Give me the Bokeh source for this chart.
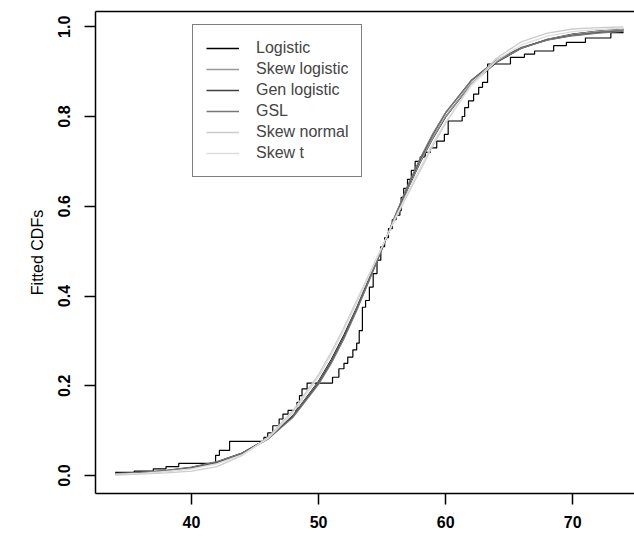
from bokeh.plotting import figure
from bokeh.models import Range1d, FixedTicker, LinearAxis, Legend, LegendItem, PrintfTickFormatter
from bokeh.embed import file_html
from bokeh.resources import INLINE

# ---- data ----
grid_x = [34, 36, 38, 40, 42, 44, 46, 48, 50, 51, 52, 53, 54, 55, 56, 57, 58, 59, 60,
          62, 64, 66, 68, 70, 72, 74]

logistic = [0.0035, 0.006, 0.0103, 0.0175, 0.0297, 0.050, 0.0826, 0.134, 0.210, 0.258,
            0.313, 0.374, 0.440, 0.507, 0.574, 0.638, 0.698, 0.752, 0.799,
            0.872, 0.921, 0.9526, 0.9718, 0.9834, 0.9902, 0.9943]
skew_logistic = [0.003, 0.0055, 0.0095, 0.016, 0.028, 0.048, 0.081, 0.133, 0.208, 0.255,
                 0.310, 0.372, 0.438, 0.506, 0.574, 0.639, 0.699, 0.753, 0.800,
                 0.873, 0.922, 0.953, 0.972, 0.983, 0.990, 0.994]
gen_logistic = [0.004, 0.0065, 0.011, 0.018, 0.030, 0.050, 0.082, 0.132, 0.206, 0.253,
                0.308, 0.370, 0.437, 0.506, 0.576, 0.643, 0.705, 0.760, 0.808,
                0.880, 0.926, 0.954, 0.971, 0.981, 0.987, 0.991]
gsl = [0.0045, 0.007, 0.0115, 0.019, 0.031, 0.050, 0.081, 0.130, 0.203, 0.250,
       0.305, 0.368, 0.436, 0.506, 0.577, 0.645, 0.707, 0.762, 0.809,
       0.879, 0.924, 0.953, 0.970, 0.980, 0.986, 0.990]
skew_normal = [0.001, 0.003, 0.006, 0.010, 0.020, 0.045, 0.085, 0.145, 0.225, 0.275,
               0.330, 0.390, 0.450, 0.510, 0.570, 0.625, 0.680, 0.735, 0.785,
               0.870, 0.930, 0.967, 0.986, 0.995, 0.998, 0.9995]
skew_t = [0.003, 0.005, 0.009, 0.015, 0.026, 0.046, 0.082, 0.140, 0.220, 0.270,
          0.325, 0.385, 0.447, 0.510, 0.572, 0.630, 0.686, 0.740, 0.788,
          0.868, 0.925, 0.960, 0.979, 0.989, 0.994, 0.997]

ecdf_x = [34.0, 35.5, 37.0, 38.0, 39.0, 41.9, 42.2, 43.0, 45.7, 46.0, 46.4, 46.9, 47.2,
          47.6, 48.3, 48.5, 48.7, 49.1, 51.1, 51.6, 52.0, 52.3, 52.7, 53.0, 53.2, 53.45,
          53.7, 54.0, 54.3, 54.6, 54.9, 55.2, 55.5, 55.8, 56.1, 56.4, 56.5, 56.7, 57.0,
          57.3, 57.6, 58.0, 58.4, 58.8, 59.3, 59.9, 60.2, 61.3, 61.5, 61.8, 62.2, 62.6,
          62.9, 63.3, 65.1, 66.2, 67.0, 68.5, 69.5, 71.0, 73.0, 74.0]
ecdf_y = [0.007, 0.010, 0.015, 0.020, 0.027, 0.045, 0.056, 0.076, 0.085, 0.095, 0.111,
          0.126, 0.137, 0.145, 0.163, 0.178, 0.193, 0.206, 0.219, 0.238, 0.250, 0.264,
          0.280, 0.295, 0.323, 0.375, 0.390, 0.420, 0.450, 0.480, 0.510, 0.530, 0.550,
          0.570, 0.580, 0.590, 0.620, 0.640, 0.660, 0.680, 0.700, 0.710, 0.720, 0.730,
          0.745, 0.760, 0.790, 0.800, 0.820, 0.835, 0.850, 0.865, 0.876, 0.917, 0.932,
          0.939, 0.946, 0.958, 0.965, 0.975, 0.987, 0.987]

series_names = ["Logistic", "Skew logistic", "Gen logistic", "GSL", "Skew normal", "Skew t"]
series_values = [logistic, skew_logistic, gen_logistic, gsl, skew_normal, skew_t]
series_colors = ["#000000", "#999999", "#404040", "#777777", "#cccccc", "#dddddd"]

x_ticks = [40, 50, 60, 70]
y_ticks = [0.0, 0.2, 0.4, 0.6, 0.8, 1.0]
y_title = "Fitted CDFs"

FONT = "Liberation Sans"

p = figure(width=634, height=536, x_range=Range1d(32.45, 74.86),
           y_range=Range1d(-0.040, 1.034), output_backend="svg",
           toolbar_location=None, min_border_left=95, min_border_right=0,
           min_border_top=11, min_border_bottom=43)
p.outline_line_color = None
p.xgrid.visible = False
p.ygrid.visible = False
p.background_fill_color = "white"
p.border_fill_color = "white"

for ax in (p.xaxis[0], p.yaxis[0]):
    ax.axis_line_width = 1.5
    ax.axis_line_color = "black"
    ax.major_tick_in = 0
    ax.major_tick_out = 11
    ax.major_tick_line_width = 1.5
    ax.minor_tick_line_color = None
    ax.major_label_text_font = FONT
    ax.major_label_text_font_size = "16px"
    ax.major_label_text_font_style = "bold"
    ax.major_label_text_color = "black"

p.xaxis[0].ticker = FixedTicker(ticks=x_ticks)
p.xaxis[0].major_label_standoff = 11
p.yaxis[0].ticker = FixedTicker(ticks=y_ticks)
p.yaxis[0].formatter = PrintfTickFormatter(format="%.1f")
p.yaxis[0].major_label_orientation = "vertical"
p.yaxis[0].major_label_standoff = 14
p.yaxis[0].axis_label = y_title
p.yaxis[0].axis_label_text_font = FONT
p.yaxis[0].axis_label_text_font_size = "16px"
p.yaxis[0].axis_label_text_font_style = "normal"
p.yaxis[0].axis_label_text_color = "black"
p.yaxis[0].axis_label_standoff = 10

top = LinearAxis(ticker=FixedTicker(ticks=[]), axis_line_width=1.5,
                 major_tick_line_color=None, minor_tick_line_color=None,
                 major_label_text_font_size="0px")
p.add_layout(top, "above")

p.step(ecdf_x, ecdf_y, mode="after", line_color="black", line_width=1.2)

items = []
for name, vals, col in zip(series_names, series_values, series_colors):
    r = p.line(grid_x, vals, line_color=col, line_width=1.3)
    items.append(LegendItem(label=name, renderers=[r]))

legend = Legend(items=items, location=(97, 316), label_text_font=FONT,
                label_text_font_size="16px", label_height=20, glyph_height=20,
                glyph_width=33, label_standoff=17, spacing=1, padding=13, margin=0,
                border_line_color="black", border_line_width=1,
                background_fill_color="white", background_fill_alpha=1.0)
p.add_layout(legend, "center")

open("out.html", "w").write(file_html(p, INLINE))
